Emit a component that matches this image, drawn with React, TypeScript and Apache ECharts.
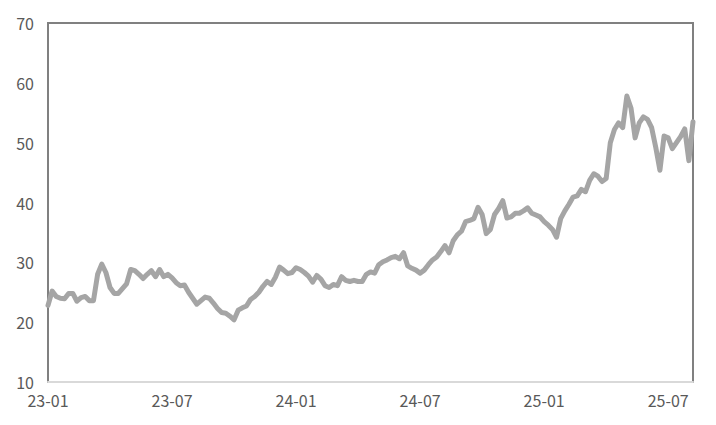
import React, { useEffect, useRef } from "react";
import * as echarts from "echarts";

const tickLabels = ["23-01", "23-07", "24-01", "24-07", "25-01", "25-07"];
const labelEvery = 30;

const seriesValues = [
  22.8, 25.2, 24.3, 24.0, 23.9, 24.8, 24.8, 23.5, 24.1, 24.3,
  23.6, 23.6, 28.0, 29.7, 28.3, 25.8, 24.8, 24.8, 25.6, 26.4,
  28.8, 28.6, 28.0, 27.3, 28.0, 28.6, 27.6, 28.8, 27.6, 28.0,
  27.4, 26.6, 26.1, 26.2, 25.0, 24.0, 23.0, 23.6, 24.2, 24.0,
  23.2, 22.3, 21.6, 21.5, 21.0, 20.4, 22.0, 22.4, 22.7, 23.8,
  24.3, 25.0, 26.0, 26.8, 26.3, 27.5, 29.2, 28.7, 28.1, 28.3,
  29.1, 28.8, 28.3, 27.7, 26.7, 27.8, 27.2, 26.1, 25.8, 26.3,
  26.1, 27.6, 27.0, 26.8, 27.0, 26.8, 26.8, 28.0, 28.4, 28.2,
  29.6, 30.1, 30.4, 30.8, 31.0, 30.6, 31.6, 29.4, 29.0, 28.7,
  28.2, 28.7, 29.6, 30.4, 30.9, 31.8, 32.8, 31.6, 33.6, 34.6,
  35.2, 36.8, 37.0, 37.3, 39.2, 38.0, 34.8, 35.5, 38.0, 39.0,
  40.3, 37.4, 37.6, 38.2, 38.2, 38.6, 39.1, 38.2, 37.9, 37.6,
  36.8, 36.2, 35.5, 34.2, 37.3, 38.6, 39.7, 40.9, 41.1, 42.2,
  41.8, 43.7, 44.8, 44.4, 43.5, 44.0, 50.0, 52.2, 53.3, 52.5,
  57.8, 55.8, 50.8, 53.3, 54.3, 53.9, 52.5, 49.2, 45.4, 51.1,
  50.8, 49.0, 50.0, 51.0, 52.3, 47.0, 53.5,
];

const categories = seriesValues.map((_, i) =>
  i % labelEvery === 0 ? tickLabels[i / labelEvery] ?? "" : ""
);

const yMin = 10;
const yMax = 70;
const yStep = 10;

export default function App() {
  const ref = useRef<HTMLDivElement>(null);
  useEffect(() => {
    if (!ref.current) return;
    const chart = echarts.init(ref.current, undefined, { renderer: "svg" });
    const font = "'Noto Sans CJK SC', 'Noto Sans', sans-serif";
    chart.setOption({
      animation: false,
      backgroundColor: "#ffffff",
      grid: {
        left: 48,
        top: 23,
        right: 23,
        bottom: 43,
        show: true,
        borderColor: "#808080",
        borderWidth: 2,
        backgroundColor: "transparent",
      },
      xAxis: {
        type: "category",
        data: categories,
        boundaryGap: false,
        axisLine: { show: true, lineStyle: { color: "#d9d9d9", width: 2 } },
        axisTick: { show: false },
        splitLine: { show: false },
        axisLabel: {
          interval: labelEvery - 1,
          color: "#595959",
          fontSize: 16,
          lineHeight: 16,
          fontFamily: font,
          margin: 10,
        },
      },
      yAxis: {
        type: "value",
        min: yMin,
        max: yMax,
        interval: yStep,
        axisLine: { show: true, lineStyle: { color: "#808080", width: 2 } },
        axisTick: { show: false },
        splitLine: { show: false },
        axisLabel: {
          color: "#595959",
          fontSize: 16,
          lineHeight: 16,
          fontFamily: font,
          margin: 14,
        },
      },
      series: [
        {
          type: "line",
          data: seriesValues,
          showSymbol: false,
          symbol: "none",
          lineStyle: { color: "#a5a5a5", width: 5, join: "round", cap: "round" },
        },
      ],
    });
    return () => chart.dispose();
  }, []);
  return (
    <div
      ref={ref}
      style={{ position: "fixed", left: 0, top: 0, width: 716, height: 425 }}
    />
  );
}
